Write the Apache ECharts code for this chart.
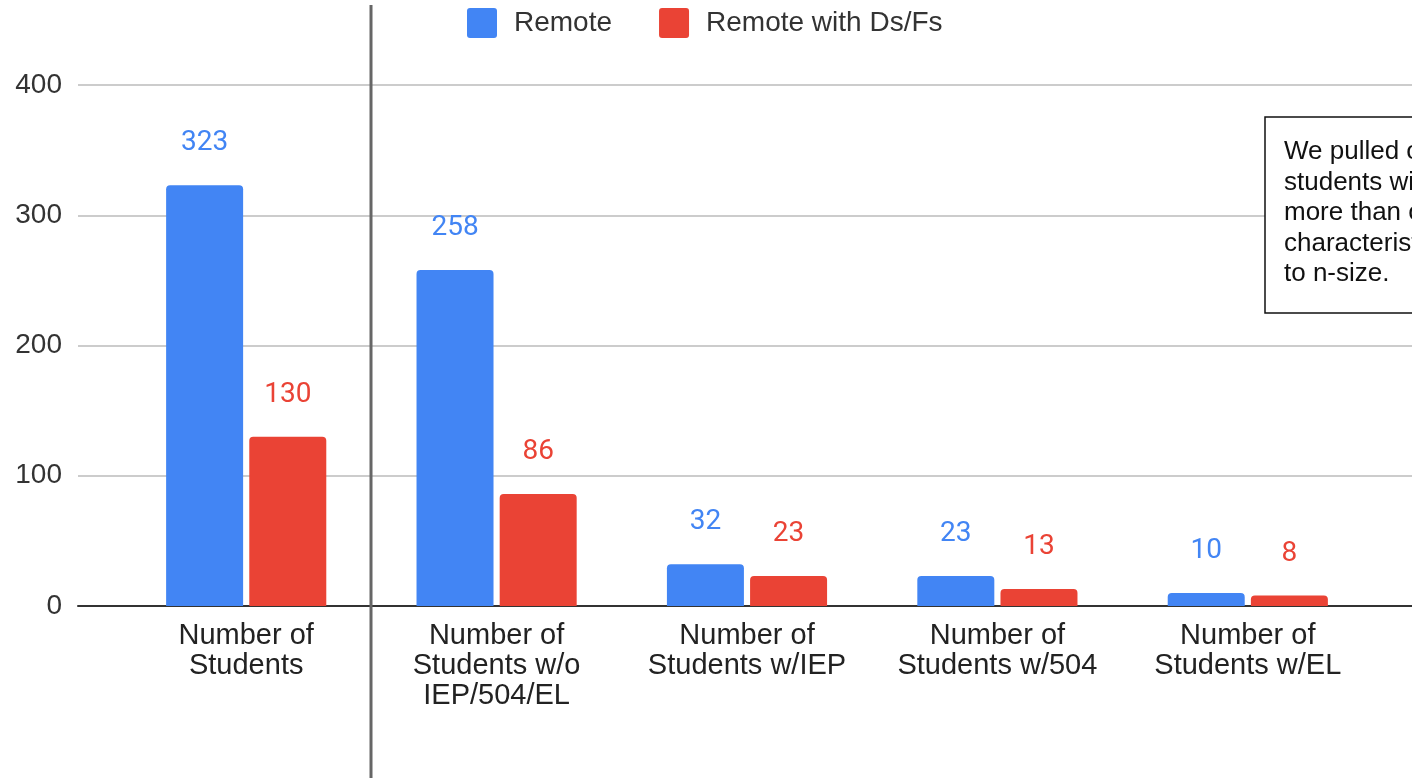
<!DOCTYPE html>
<html>
<head>
<meta charset="utf-8">
<script src="https://cdn.jsdelivr.net/npm/echarts@6/dist/echarts.min.js"></script>
<style>
  html, body { margin: 0; padding: 0; background: #fff; }
  #chart { width: 1412px; height: 778px; }
</style>
</head>
<body>
<div id="chart"></div>
<script>
const categories = [
  'Number of\nStudents',
  'Number of\nStudents w/o\nIEP/504/EL',
  'Number of\nStudents w/IEP',
  'Number of\nStudents w/504',
  'Number of\nStudents w/EL'
]
const remote = [323, 258, 32, 23, 10]
const remoteDsFs = [130, 86, 23, 13, 8]
const seriesNames = ['Remote', 'Remote with Ds/Fs']
const yTicks = [0, 100, 200, 300, 400]
const note = 'We pulled out\nstudents with\nmore than one\ncharacteristic due\nto n-size.'

const BLUE = '#4285F4'
const RED = '#EA4335'
const FONT = 'Liberation Sans, Arial, sans-serif'

const chart = echarts.init(document.getElementById('chart'))

const barLabel = (color) => ({
  show: true,
  position: 'top',
  distance: 28,
  color,
  fontSize: 28,
  fontFamily: 'Roboto, sans-serif'
})

const option = {
  animation: false,
  backgroundColor: '#fff',
  legend: {
    top: 3,
    left: 462,
    itemWidth: 30,
    itemHeight: 30,
    itemGap: 47,
    icon: 'path://M3,0 L27,0 Q30,0 30,3 L30,27 Q30,30 27,30 L3,30 Q0,30 0,27 L0,3 Q0,0 3,0 Z',
    textStyle: {fontSize: 28, color: '#333', fontFamily: FONT, padding: [0, 0, 0, 12]},
    data: seriesNames
  },
  grid: [
    {left: 78, right: -20, top: 85, bottom: 172},
    {left: 121, width: 1252, top: 85, bottom: 172}
  ],
  xAxis: [
    {
      gridIndex: 0, type: 'value', min: 0, max: 1,
      axisLine: {show: true, onZero: false, lineStyle: {color: '#333', width: 2}},
      axisTick: {show: false}, axisLabel: {show: false}, splitLine: {show: false}
    },
    {
      gridIndex: 1, type: 'category', data: categories,
      axisLine: {show: false}, axisTick: {show: false},
      axisLabel: {
        interval: 0, margin: 15, fontSize: 29, lineHeight: 30,
        color: '#222', fontFamily: FONT
      }
    }
  ],
  yAxis: [
    {
      gridIndex: 0, type: 'value', min: yTicks[0], max: yTicks[yTicks.length - 1], interval: 100,
      axisLine: {show: false}, axisTick: {show: false},
      axisLabel: {fontSize: 28, color: '#333', margin: 16, fontFamily: FONT},
      splitLine: {lineStyle: {color: '#ccc', width: 2}}
    },
    {
      gridIndex: 1, type: 'value', min: yTicks[0], max: yTicks[yTicks.length - 1], interval: 100,
      show: false
    }
  ],
  series: [
    {
      name: seriesNames[0], type: 'bar', xAxisIndex: 1, yAxisIndex: 1,
      data: remote, barWidth: 77, barGap: '8%',
      itemStyle: {color: BLUE, borderRadius: [4, 4, 0, 0]},
      label: barLabel(BLUE)
    },
    {
      name: seriesNames[1], type: 'bar', xAxisIndex: 1, yAxisIndex: 1,
      data: remoteDsFs, barWidth: 77,
      itemStyle: {color: RED, borderRadius: [4, 4, 0, 0]},
      label: barLabel(RED)
    }
  ]
}

chart.setOption(option)

// separator between the first and second category, note box on the right
const x0 = chart.convertToPixel({xAxisIndex: 1}, 0)
const x1 = chart.convertToPixel({xAxisIndex: 1}, 1)
const sepX = Math.round((x0 + x1) / 2)
chart.setOption({
  graphic: [
    {
      type: 'line', z: 10,
      shape: {x1: sepX, y1: 5, x2: sepX, y2: 778},
      style: {stroke: '#666', lineWidth: 3}
    },
    {
      type: 'rect', z: 10,
      shape: {x: 1265, y: 117, width: 300, height: 196},
      style: {fill: '#fff', stroke: '#111', lineWidth: 1.5}
    },
    {
      type: 'text', z: 11, x: 1284, y: 137,
      style: {text: note, fontSize: 26, lineHeight: 30.5, fill: '#111', fontFamily: FONT}
    }
  ]
})
</script>
</body>
</html>
